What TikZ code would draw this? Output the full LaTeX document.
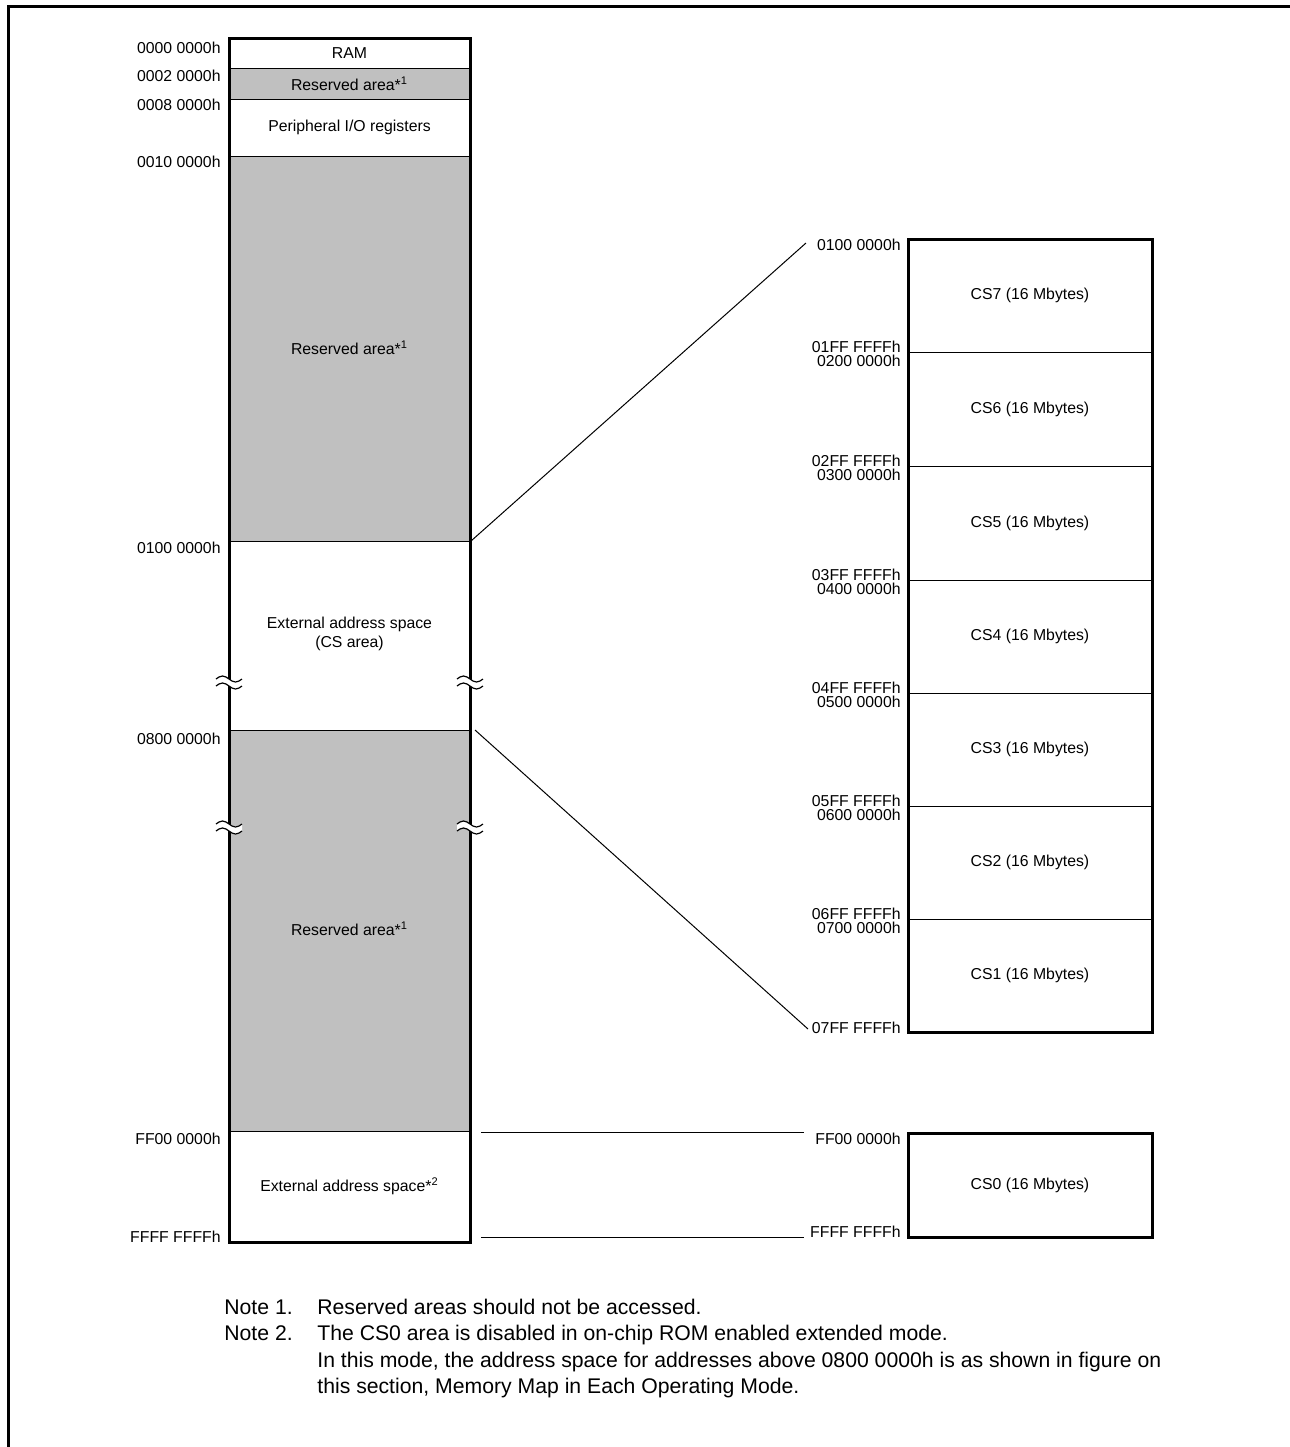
\documentclass[tikz,border=0pt]{standalone}
\usepackage{fontspec}
\setmainfont{Liberation Sans}
\definecolor{rsvgray}{RGB}{192,192,192}

% break mark on a column edge
\newcommand{\brkmark}[2]{%
  \fill[white] ({#1-13},{#2-4}) sin ({#1-6.5},{#2-7}) cos ({#1},{#2-4}) sin ({#1+6.5},{#2-1}) cos ({#1+13},{#2-4})
    -- ({#1+13},{#2+3}) sin ({#1+6.5},{#2+6}) cos ({#1},{#2+3}) sin ({#1-6.5},{#2}) cos ({#1-13},{#2+3}) -- cycle;
  \draw[line width=0.6pt] ({#1-13},{#2-4}) sin ({#1-6.5},{#2-7}) cos ({#1},{#2-4}) sin ({#1+6.5},{#2-1}) cos ({#1+13},{#2-4});
  \draw[line width=0.6pt] ({#1-13},{#2+3}) sin ({#1-6.5},{#2}) cos ({#1},{#2+3}) sin ({#1+6.5},{#2+6}) cos ({#1+13},{#2+3});
}

\begin{document}
\begin{tikzpicture}[x=0.5pt, y=-0.5pt,
    addr/.style={anchor=east, inner sep=0pt, font=\fontsize{7.9}{9.5}\selectfont},
    blocktext/.style={align=center, inner sep=0pt, font=\fontsize{7.9}{9.2}\selectfont},
    divider/.style={line width=0.5pt},
    outline/.style={line width=1.5pt},
    link/.style={line width=0.5pt},
    notetext/.style={anchor=base west, inner sep=0pt, font=\fontsize{10.6}{13.25}\selectfont}
  ]
  \useasboundingbox (0,0) rectangle (1290,1447);

  % frame
  \draw[line width=1.5pt] (8.5,1447) -- (8.5,6.5) -- (1290,6.5);

  % left column
  \fill[rsvgray] (229,68) rectangle (470,99);
  \fill[rsvgray] (229,156) rectangle (470,541);
  \fill[rsvgray] (229,730) rectangle (470,1131);
  \foreach \y in {68,99,156,541,730,1131}
    \draw[divider] (229,\y) -- (470,\y);
  \draw[outline] (229,38) rectangle (470,1242);

  \brkmark{229}{683}
  \brkmark{470}{683}
  \brkmark{229}{828}
  \brkmark{470}{828}

  \node[blocktext] (ram) at (349.5,53) {RAM};
  \node[blocktext] (rsvA) at (349.5,84) {Reserved area*\textsuperscript{1}};
  \node[blocktext] (pio) at (349.5,127) {Peripheral I/O registers};
  \node[blocktext] (rsvB) at (349.5,348) {Reserved area*\textsuperscript{1}};
  \node[blocktext] (ext) at (349.5,634) {External address space\\(CS area)};
  \node[blocktext] (rsvC) at (349.5,929) {Reserved area*\textsuperscript{1}};
  \node[blocktext] (extB) at (349.5,1186) {External address space*\textsuperscript{2}};

  % left addresses
  \foreach \y/\t [count=\i] in {48/0000 0000h, 76/0002 0000h, 105/0008 0000h, 162/0010 0000h,
      548/0100 0000h, 739/0800 0000h, 1139/FF00 0000h, 1237/FFFF FFFFh}
    \node[addr] (la\i) at (221,\y) {\t};

  % right column (CS7 - CS1)
  \foreach \y in {352,466,580,693,806,919}
    \draw[divider] (908,\y) -- (1152,\y);
  \draw[outline] (908,239) rectangle (1152,1032);
  \foreach \y/\n in {295.5/7, 409/6, 523/5, 636.5/4, 749.5/3, 862.5/2, 975.5/1}
    \node[blocktext] (cs\n) at (1030,\y) {CS\n\ (16 Mbytes)};

  % CS0
  \draw[outline] (908,1133) rectangle (1152,1237);
  \node[blocktext] (cs0) at (1030,1185) {CS0 (16 Mbytes)};

  % right addresses
  \foreach \y/\t [count=\i] in {245/0100 0000h, 347/01FF FFFFh, 361/0200 0000h, 461/02FF FFFFh,
      475/0300 0000h, 575/03FF FFFFh, 589/0400 0000h, 688/04FF FFFFh, 702/0500 0000h,
      801/05FF FFFFh, 815/0600 0000h, 914/06FF FFFFh, 928/0700 0000h, 1028/07FF FFFFh,
      1139/FF00 0000h, 1232/FFFF FFFFh}
    \node[addr] (ra\i) at (901,\y) {\t};

  % expansion lines
  \coordinate (csTop) at (471,541);
  \coordinate (csTopR) at (806,243);
  \coordinate (csBot) at (475,730);
  \coordinate (csBotR) at (808,1029);
  \coordinate (extTop) at (481,1132);
  \coordinate (extTopR) at (804,1132);
  \coordinate (extBot) at (481,1237);
  \coordinate (extBotR) at (804,1237);
  \draw[link] (csTop) -- (csTopR);
  \draw[link] (csBot) -- (csBotR);
  \draw[link] (extTop) -- (extTopR);
  \draw[link] (extBot) -- (extBotR);

  % notes
  \node[notetext] (n1) at (224,1314) {Note 1.};
  \node[notetext] (n1t) at (317,1314) {Reserved areas should not be accessed.};
  \node[notetext] (n2) at (224,1340) {Note 2.};
  \node[notetext] (n2t) at (317,1340) {The CS0 area is disabled in on-chip ROM enabled extended mode.};
  \node[notetext] (n2u) at (317,1367) {In this mode, the address space for addresses above 0800 0000h is as shown in figure on};
  \node[notetext] (n2v) at (317,1393) {this section, Memory Map in Each Operating Mode.};
\end{tikzpicture}
\end{document}
